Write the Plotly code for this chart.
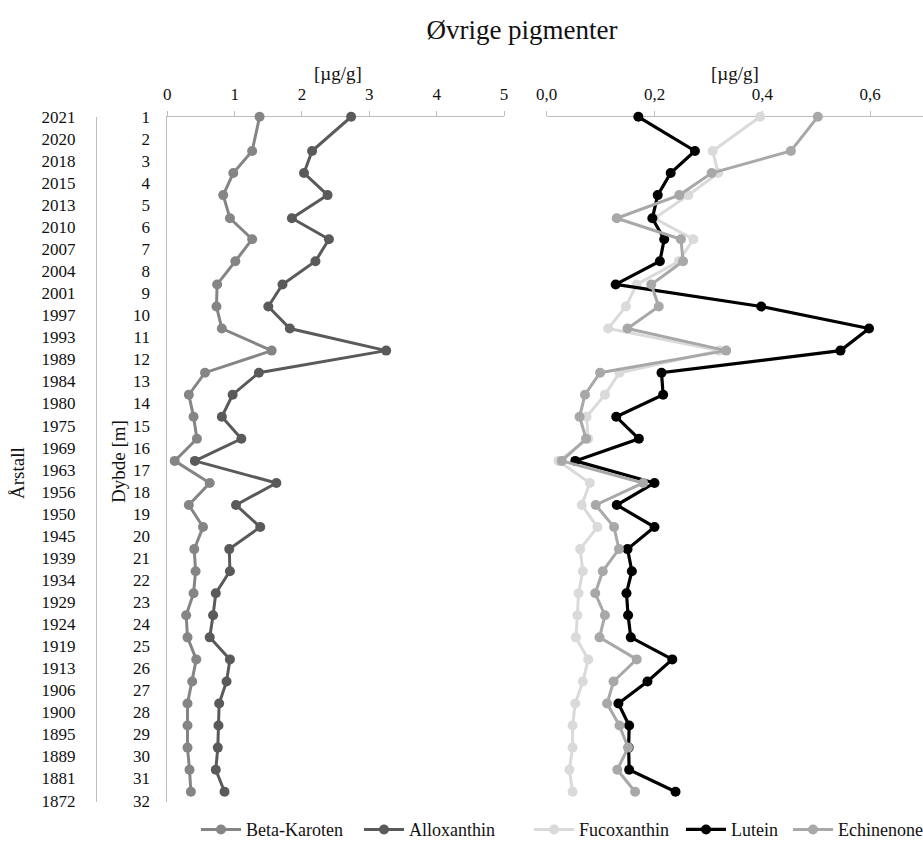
import plotly.graph_objects as go

# Depth scale labels (rows) and matching year of deposition
depth_labels = [str(d) for d in range(1, 33)]
year_labels = [
    "2021", "2020", "2018", "2015", "2013", "2010", "2007", "2004", "2001", "1997",
    "1993", "1989", "1984", "1980", "1975", "1969", "1963", "1956", "1950", "1945",
    "1939", "1934", "1929", "1924", "1919", "1913", "1906", "1900", "1895", "1889",
    "1881", "1872",
]

# Sample positions on the depth scale
sample_depth = [
    1.0, 2.55, 3.55, 4.55, 5.6, 6.55, 7.55, 8.6, 9.6, 10.6,
    11.6, 12.6, 13.6, 14.6, 15.6, 16.6, 17.6, 18.6, 19.6, 20.6,
    21.6, 22.6, 23.6, 24.6, 25.6, 26.6, 27.6, 28.6, 29.6, 30.6, 31.6,
]

# Pigment concentrations [µg/g]
beta_karoten = [
    1.37, 1.26, 0.98, 0.83, 0.93, 1.26, 1.01, 0.74, 0.73, 0.81,
    1.55, 0.56, 0.32, 0.39, 0.44, 0.11, 0.63, 0.32, 0.53, 0.40,
    0.42, 0.39, 0.28, 0.30, 0.43, 0.37, 0.30, 0.30, 0.30, 0.33, 0.35,
]
alloxanthin = [
    2.73, 2.15, 2.03, 2.38, 1.85, 2.40, 2.20, 1.71, 1.50, 1.82,
    3.25, 1.36, 0.97, 0.81, 1.10, 0.41, 1.62, 1.02, 1.38, 0.92,
    0.93, 0.72, 0.68, 0.63, 0.93, 0.88, 0.77, 0.76, 0.75, 0.72, 0.85,
]
fucoxanthin = [
    0.396, 0.308, 0.318, 0.263, 0.200, 0.272, 0.245, 0.167, 0.147, 0.114,
    0.320, 0.135, 0.108, 0.074, 0.077, 0.022, 0.080, 0.065, 0.094, 0.062,
    0.067, 0.059, 0.057, 0.054, 0.077, 0.067, 0.053, 0.048, 0.048, 0.042, 0.048,
]
lutein = [
    0.170, 0.275, 0.230, 0.206, 0.196, 0.218, 0.210, 0.128, 0.398, 0.598,
    0.545, 0.213, 0.216, 0.129, 0.171, 0.053, 0.200, 0.130, 0.200, 0.150,
    0.158, 0.148, 0.151, 0.156, 0.233, 0.187, 0.133, 0.153, 0.152, 0.153, 0.239,
]
echinenone = [
    0.503, 0.453, 0.306, 0.246, 0.130, 0.249, 0.253, 0.194, 0.208, 0.150,
    0.333, 0.099, 0.071, 0.061, 0.073, 0.028, 0.179, 0.091, 0.125, 0.134,
    0.104, 0.090, 0.108, 0.098, 0.167, 0.124, 0.112, 0.135, 0.151, 0.131, 0.164,
]

FONT = "Liberation Serif, Times New Roman, serif"
W, H = 923, 844
AXIS_GREY = "#bdbdbd"
TEXT = "#111111"

y_top_px, y_bot_px = 116.7, 802.0
px_per_row = 22.06
y_range = [1 + (y_bot_px - y_top_px) / px_per_row, 0.995]
y_domain = [1 - y_bot_px / H, 1 - y_top_px / H]

fig = go.Figure()


def add_series(x, name, color, xa, ya, legend, width=3):
    fig.add_trace(go.Scatter(
        x=x, y=sample_depth, name=name, mode="lines+markers",
        line=dict(color=color, width=width),
        marker=dict(color=color, size=10),
        xaxis=xa, yaxis=ya, legend=legend, cliponaxis=False,
    ))


add_series(beta_karoten, "Beta-Karoten", "#858585", "x", "y", "legend")
add_series(alloxanthin, "Alloxanthin", "#5a5a5a", "x", "y", "legend2")
add_series(fucoxanthin, "Fucoxanthin", "#dadada", "x2", "y2", "legend3")
add_series(lutein, "Lutein", "#000000", "x2", "y2", "legend4", width=3.2)
add_series(echinenone, "Echinenone", "#a8a8a8", "x2", "y2", "legend5")

# empty carrier so the year scale is rendered
fig.add_trace(go.Scatter(x=[None], y=[None], xaxis="x", yaxis="y3",
                         mode="none", showlegend=False, hoverinfo="skip"))

tick_font = dict(family=FONT, size=17, color=TEXT)
row_vals = list(range(1, 33))

legend_font = dict(family=FONT, size=18, color=TEXT)


def legend_at(text_left_px):
    return dict(orientation="h", x=(text_left_px - 51) / W, y=-0.005,
                xanchor="left", yanchor="bottom", itemwidth=40,
                font=legend_font, bgcolor="rgba(0,0,0,0)", borderwidth=0)


fig.update_layout(
    width=W, height=H,
    margin=dict(l=0, r=0, t=0, b=0, autoexpand=False),
    paper_bgcolor="white", plot_bgcolor="white",
    font=dict(family=FONT, size=17, color=TEXT),
    separators=", ",
    title=dict(text="Øvrige pigmenter", x=522 / W, y=1 - 30 / H,
               xanchor="center", yanchor="middle",
               font=dict(family=FONT, size=27, color=TEXT)),
    xaxis=dict(domain=[167.3 / W, 504 / W], range=[0, 5], side="top",
               anchor="y", showgrid=False, zeroline=False, automargin=False,
               showline=True, linecolor=AXIS_GREY, linewidth=1,
               ticks="outside", ticklen=5, tickcolor=AXIS_GREY,
               dtick=1, tickfont=tick_font, ticklabelstandoff=4,
               layer="below traces"),
    xaxis2=dict(domain=[546.7 / W, 1.0], range=[0, (W - 546.7) / 539.0],
                side="top", anchor="y2", showgrid=False, zeroline=False,
                automargin=False,
                showline=True, linecolor=AXIS_GREY, linewidth=1,
                ticks="outside", ticklen=5, tickcolor=AXIS_GREY,
                tickvals=[0, 0.2, 0.4, 0.6], tickformat=".1f",
                tickfont=tick_font, ticklabelstandoff=4,
                layer="below traces"),
    yaxis=dict(domain=y_domain, range=y_range, anchor="x",
               showgrid=False, zeroline=False, automargin=False,
               showline=True, linecolor=AXIS_GREY, linewidth=1,
               tickvals=row_vals, ticktext=depth_labels, ticks="",
               tickfont=tick_font, ticklabelstandoff=13,
               layer="below traces"),
    yaxis2=dict(domain=y_domain, range=y_range, anchor="x2",
                showgrid=False, zeroline=False, showline=False,
                automargin=False, showticklabels=False, ticks=""),
    yaxis3=dict(overlaying="y", anchor="free", position=96 / W, side="left",
                range=y_range, showgrid=False, zeroline=False,
                automargin=False,
                showline=True, linecolor=AXIS_GREY, linewidth=1,
                tickvals=row_vals, ticktext=year_labels, ticks="",
                tickfont=tick_font, ticklabelstandoff=17),
    legend=legend_at(247),
    legend2=legend_at(410),
    legend3=legend_at(580),
    legend4=legend_at(732),
    legend5=legend_at(839),
    annotations=[
        dict(text="[µg/g]", x=338 / W, y=1 - 74 / H, xref="paper", yref="paper",
             showarrow=False, xanchor="center", yanchor="middle",
             font=dict(family=FONT, size=19)),
        dict(text="[µg/g]", x=735 / W, y=1 - 74 / H, xref="paper", yref="paper",
             showarrow=False, xanchor="center", yanchor="middle",
             font=dict(family=FONT, size=19)),
        dict(text="Årstall", x=17 / W, y=1 - 473 / H, xref="paper", yref="paper",
             showarrow=False, textangle=-90, xanchor="center", yanchor="middle",
             font=dict(family=FONT, size=19)),
        dict(text="Dybde [m]", x=118 / W, y=1 - 462 / H, xref="paper", yref="paper",
             showarrow=False, textangle=-90, xanchor="center", yanchor="middle",
             font=dict(family=FONT, size=19)),
    ],
)

fig.write_html("out.html")
